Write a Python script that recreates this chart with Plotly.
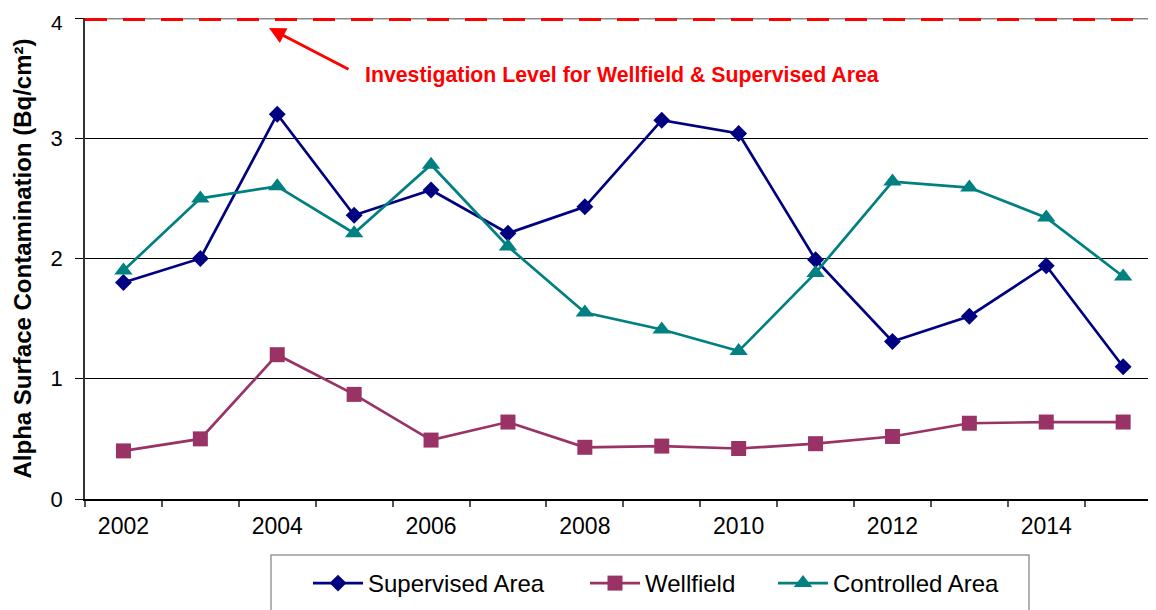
import plotly.graph_objects as go

years = list(range(2002, 2016))
supervised = [1.80, 2.00, 3.20, 2.36, 2.57, 2.21, 2.43, 3.15, 3.04, 1.99, 1.31, 1.52, 1.94, 1.10]
wellfield = [0.40, 0.50, 1.20, 0.87, 0.49, 0.64, 0.43, 0.44, 0.42, 0.46, 0.52, 0.63, 0.64, 0.64]
controlled = [1.90, 2.50, 2.60, 2.21, 2.78, 2.10, 1.55, 1.41, 1.23, 1.88, 2.64, 2.59, 2.34, 1.85]
investigation_level = 4
tick_years = [2002, 2004, 2006, 2008, 2010, 2012, 2014]
y_ticks = [0, 1, 2, 3, 4]

FONT = "Liberation Sans, Arial, sans-serif"

# screen layout helpers (page body has an 8px margin)
OFF = 8
PL, PR, PT, PB = 85, 1162, 18, 499  # plot area in screen pixels
PW, PH = PR - PL, PB - PT


def px(sx):
    return (sx - PL) / PW


def py(sy):
    return (PB - sy) / PH


fig = go.Figure()
fig.add_trace(go.Scatter(x=years, y=supervised, name="Supervised Area", mode="lines+markers",
                         line=dict(color="#000080", width=2.7),
                         marker=dict(symbol="diamond", size=13, color="#000080"), legend="legend"))
fig.add_trace(go.Scatter(x=years, y=wellfield, name="Wellfield", mode="lines+markers",
                         line=dict(color="#993366", width=2.7),
                         marker=dict(symbol="square", size=15, color="#993366"), legend="legend2"))
fig.add_trace(go.Scatter(x=years, y=controlled, name="Controlled Area", mode="lines+markers",
                         line=dict(color="#008080", width=2.7),
                         marker=dict(symbol="triangle-up", size=16, color="#008080"), legend="legend3"))

# investigation level: grey gridline with red dashes
fig.add_shape(type="line", xref="paper", yref="y", x0=0, x1=1, y0=investigation_level, y1=investigation_level,
              line=dict(color="#888888", width=3))
fig.add_shape(type="line", xref="paper", yref="y", x0=0, x1=1, y0=investigation_level, y1=investigation_level,
              line=dict(color="#ff0000", width=6, dash="22px,16px"))

# legend box
fig.add_shape(type="rect", xref="paper", yref="paper", x0=px(271), x1=px(1029),
              y0=py(625), y1=py(555),
              line=dict(color="#999999", width=1.5), fillcolor="rgba(0,0,0,0)")

# arrow and label
fig.add_annotation(x=px(269), y=py(28), xref="paper", yref="paper",
                   ax=81, ay=42, axref="pixel", ayref="pixel",
                   showarrow=True, arrowhead=2, arrowsize=1.1, arrowwidth=3, arrowcolor="#ff0000", text="")
fig.add_annotation(x=px(363), y=py(75), xref="paper", yref="paper",
                   text="<b>Investigation Level for Wellfield & Supervised Area</b>", showarrow=False,
                   xanchor="left", yanchor="middle",
                   font=dict(family=FONT, size=21.3, color="#ff0000"))

# top tick label (kept inside the page edge)
fig.add_annotation(x=px(65), y=py(22), xref="paper", yref="paper", text=str(y_ticks[-1]),
                   showarrow=False, xanchor="right", yanchor="middle",
                   font=dict(family=FONT, size=21, color="black"))

leg_common = dict(orientation="h", xanchor="left", yanchor="top", y=py(561),
                  font=dict(family=FONT, size=24, color="black"), bgcolor="rgba(0,0,0,0)",
                  borderwidth=0, itemwidth=50)

fig.update_layout(
    width=1156, height=610,
    margin=dict(l=PL - OFF, r=1156 - (PR - OFF), t=PT - OFF, b=610 - (PB - OFF)),
    paper_bgcolor="white", plot_bgcolor="white",
    font=dict(family=FONT, color="black"),
    showlegend=True,
    legend=dict(x=px(308), **leg_common),
    legend2=dict(x=px(585), **leg_common),
    legend3=dict(x=px(773), **leg_common),
    xaxis=dict(range=[2001.5, 2001.5 + PW / 76.9], tickmode="array", tickvals=tick_years,
               ticktext=[str(y) for y in tick_years], ticks="", showgrid=False, zeroline=False,
               showline=True, linecolor="black", linewidth=1.5, ticklabelstandoff=6,
               automargin=False,
               tickfont=dict(family=FONT, size=23, color="black"),
               minor=dict(tickmode="linear", tick0=2001.5, dtick=1, ticks="outside", ticklen=6,
                          tickcolor="#555555", tickwidth=1.5, showgrid=False)),
    yaxis=dict(range=[0, 4], tickmode="array", tickvals=y_ticks,
               ticktext=[str(v) for v in y_ticks[:-1]] + [""],
               ticks="outside", ticklen=8, tickcolor="black",
               showgrid=True, gridcolor="black", gridwidth=1, zeroline=False,
               showline=True, linecolor="#333333", linewidth=1.5, ticklabelstandoff=8,
               automargin=False,
               tickfont=dict(family=FONT, size=22, color="black"),
               title=dict(text="<b>Alpha Surface Contamination (Bq/cm²)</b>", standoff=12,
                          font=dict(family=FONT, size=24, color="black"))),
)

fig.write_html("out.html")
